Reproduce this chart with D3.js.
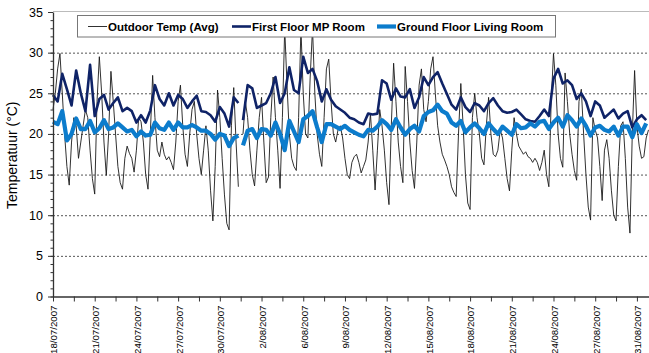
<!DOCTYPE html>
<html>
<head>
<meta charset="utf-8">
<style>
    body { margin: 0; background: #fff; }
    svg { font-family: 'Liberation Sans', Arial, sans-serif; }
    .grid line { stroke: #555; stroke-dasharray: 2,2; }
    .grid .domain { display: none; }
    .y .tick text { font-size: 12.5px; fill: #000; }
    .x .tick text { font-size: 9.7px; fill: #000; }
    .legend text { font-size: 11.5px; font-weight: bold; fill: #000; }
</style>
</head>
<body>
<svg width="649" height="353"></svg>

<script src="https://d3js.org/d3.v7.min.js"></script>
<script>
    // x is in hours from 18/07/2007 00:00 (category positions), outdoor every 4h, rooms every 8h
    let dateLabels = ["18/07/2007", "21/07/2007", "24/07/2007", "27/07/2007", "30/07/2007",
        "2/08/2007", "6/08/2007", "9/08/2007", "12/08/2007", "15/08/2007",
        "18/08/2007", "21/08/2007", "24/08/2007", "27/08/2007", "31/08/2007"];
    let yTicks = [0, 5, 10, 15, 20, 25, 30, 35];
    let seriesNames = ["Outdoor Temp (Avg)", "First Floor MP Room", "Ground Floor Living Room"];

    let outdoor = [
        23, 25, 28, 29.9, 25, 20, 16, 13.7, 19, 22, 21, 17, 19, 21, 23, 22, 18, 14.5, 12.6, 24,
        29.5, 25, 19, 14.9, 20, 27.7, 24, 20, 16, 14, 13.2, 17, 18.5, 17.6, 17, 15.3, 18, 22, 21.5, 19,
        15, 13.2, 20, 27.2, 22, 18, 17.2, 19, 17.5, 16.8, 17.2, 16.5, 15.6, 19, 24, 26, 21, 17.5, 16, 20,
        23, 24, 20, 17, 15, 18, 21, 18, 13, 9.3, 16, 25.4, 22, 17, 12.5, 9, 8.2, 21, 25.7, 19,
        13.5, null, 20, 24, 22, 18, 15, 13.6, 18, 22, 24.5, 19, 14, 14.7, 22, 27, 22, 18, 13.3, 22,
        33, 26, 20, 17, 16, 15.5, 22, 33, 25, 20, 19.5, 27, 33, 25, 20, 17.5, 16, 22, 28, 29.2,
        24, 20, 19, 20.5, 21, 19.5, 17, 15, 14.5, 16.5, 17.2, 17.5, 16.5, 15.2, 16, 16.8, 19, 22.5, 18, 13.1,
        18, 23, 21, 18, 14, 11.3, 21, 28.7, 24, 19, 16, 14, 28.3, 24, 19, 15.5, 13.3, 19, 26, 28,
        23, 21.5, 24, 28, 29.5, 25, 21, 19, 17.5, 16.8, 16, 15, 13.5, 12.8, 12.3, 20, 26.2, 21, 15, 11.5,
        10.7, 22, 25, 22, 20, 17, 16.2, 21, 24.5, 20, 17.5, 17.2, 18, 20.5, 19.5, 17, 14.5, 13, 18, 22,
        20, 18.5, 18, 17.5, 17.8, 17.2, 17, 16.5, 17, 16.5, 15.5, 16.5, 18, 15, 13.5, 24, 29.9, 26, 20, 17,
        15.9, 27.5, 24, 20, 17.5, 15.5, 14.3, 24, 25.5, 20, 15, 11, 9.4, 22, 20.5, 19.5, 16, 11.8, 18, 19.3,
        17, 13, 10, 9.3, 16, 21, 21.5, 17, 11, 7.8, 20, 27.8, 21, 18.5, 17, 17.2, 19.5, 20.5
    ];

    let firstFloor = [
        24.8, 24.0, 27.4, 25.5, 23.5, 27.8, 25.0, 22.8, 28.5, 22.2,
        24.3, 24.8, 23.0, 23.8, 24.5, 22.8, 23.2, 22.8, 21.4, 22.3,
        21.4, 22.9, 26.0, 24.3, 23.5, 25.0, 23.5, 24.8, 24.3, 23.2,
        24.0, 24.7, 22.8, 22.7, 22.3, 21.5, 23.3, 22.5, 20.9, 24.5,
        23.8, 21.7, 26.0, 25.6, 23.2, 23.5, 23.8, 25.0, 27.0, 23.8,
        25.0, 28.2, 25.4, 25.0, 29.5, 27.5, 28.0, 26.5, 24.0, 25.5,
        24.2, 23.4, 23.0, 22.6, 22.0, 21.8, 21.4, 21.2, 22.5, 22.4,
        22.5, 26.6, 26.2, 24.2, 25.6, 24.6, 24.5, 25.5, 23.2, 24.5,
        27.0, 26.0, 27.0, 27.6, 26.2, 24.9, 23.6, 23.0, 24.5, 23.3,
        22.7, 23.8, 23.5, 22.8, 23.8, 24.4, 23.5, 22.8, 22.6, 22.7,
        23.0, 22.4, 21.8, 21.6, 21.5, 22.2, 23.0, 22.2, 26.8, 28.0,
        26.2, 26.6, 26.0, 24.3, 25.0, 24.0, 22.2, 24.0, 23.5, 22.0,
        22.5, 23.0, 21.9, 22.5, 22.8, 20.8, 21.8, 22.3, 21.7
    ];

    let groundFloor = [
        21.5, 21.2, 22.8, 19.2, 20.0, 21.9, 20.6, 20.6, 21.6, 20.2,
        20.7, 21.7, 20.6, 20.8, 21.3, 20.8, 20.3, 20.5, 19.7, 20.3,
        19.8, 19.9, 21.4, 20.7, 20.5, 21.4, 20.5, 21.4, 20.8, 20.8,
        21.1, 20.8, 20.4, 20.4, 20.0, 19.3, 20.0, 19.8, 18.5, 19.5,
        19.8, 18.6, 20.4, 20.6, 19.5, 20.6, 20.5, 19.8, 21.4, 20.0,
        18.0, 21.6, 20.3, 19.0, 21.8, 22.2, 22.8, 20.8, 19.0, 21.2,
        21.2, 20.9, 20.6, 21.0, 20.5, 20.2, 19.9, 19.7, 20.5, 20.4,
        20.9, 21.7, 21.2, 20.5, 21.8, 20.8, 19.9, 20.6, 21.0, 20.3,
        22.2, 22.7, 22.9, 23.6, 22.8, 22.5, 21.4, 21.0, 21.6, 20.2,
        20.8, 21.3, 20.7, 20.0, 21.3, 20.6, 20.0, 20.9, 20.4, 19.9,
        21.2, 20.7, 20.8, 21.3, 20.9, 21.5, 21.6, 20.6, 21.4, 22.0,
        20.9, 22.3, 21.7, 20.9, 21.9, 21.0, 19.8, 20.8, 21.0, 20.5,
        20.3, 20.9, 19.8, 20.9, 20.9, 19.6, 21.2, 20.1, 21.3
    ];

    // hours where logging stopped for a while (between 320h and 328h)
    let gapHour = 324;

    let svg = d3.select("svg");

    let margin = { top: 12, right: 0, bottom: 56.5, left: 53 };
    let width = 649, height = 353;

    let x = d3.scaleLinear()
        .domain([0, 1028])
        .range([margin.left, 648.5]);

    let y = d3.scaleLinear()
        .domain([0, 35])
        .range([height - margin.bottom, margin.top]);

    // top border of plot area
    svg.append("line")
        .attr("x1", x(0)).attr("x2", width)
        .attr("y1", y(35) - 0.5).attr("y2", y(35) - 0.5)
        .attr("stroke", "#bbb");

    // dotted gridlines
    svg.append("g")
        .attr("class", "grid")
        .attr("transform", `translate(${x(0)},0)`)
        .call(d3.axisRight(y).tickValues([5, 10, 15, 20, 25, 30]).tickSize(width - x(0)).tickFormat(""));

    let outdoorData = outdoor.map((v, i) => ({ h: i * 4, v: v }));

    function withGap(values) {
        let pts = values.map((v, i) => ({ h: i * 8, v: v }));
        return pts.filter(d => d.h < gapHour)
            .concat([{ h: gapHour, v: null }], pts.filter(d => d.h > gapHour));
    }
    let firstData = withGap(firstFloor);
    let groundData = withGap(groundFloor);

    let line = d3.line()
        .defined(d => d.v != null)
        .x(d => x(d.h))
        .y(d => y(d.v));

    let plot = svg.append("g");

    plot.append("path")
        .datum(outdoorData)
        .attr("d", line)
        .attr("fill", "none")
        .attr("stroke", "#1a1a1a")
        .attr("stroke-width", 0.9);

    plot.append("path")
        .datum(firstData)
        .attr("d", line)
        .attr("fill", "none")
        .attr("stroke", "#0f2367")
        .attr("stroke-width", 2.6)
        .attr("stroke-linejoin", "round");

    plot.append("path")
        .datum(groundData)
        .attr("d", line)
        .attr("fill", "none")
        .attr("stroke", "#0c7ccc")
        .attr("stroke-width", 4.2)
        .attr("stroke-linejoin", "round");

    // y axis with minor ticks
    svg.append("g")
        .attr("transform", `translate(${x(0)},0)`)
        .call(d3.axisLeft(y).tickValues(d3.range(0, 36, 1)).tickSize(2.5).tickFormat(""))
        .call(g => g.selectAll("line").attr("stroke", "#333"))
        .call(g => g.select(".domain").remove());

    svg.append("g")
        .attr("class", "y axis")
        .attr("transform", `translate(${x(0)},0)`)
        .call(d3.axisLeft(y).tickValues(yTicks).tickSize(5).tickSizeOuter(0).tickPadding(5))
        .call(g => g.select(".domain").attr("stroke", "#333").attr("stroke-width", 1.3))
        .call(g => g.selectAll(".tick line").attr("stroke", "#333"));

    // x axis: ticks every 36h, labels every 72h
    let xAxis = d3.axisBottom(x)
        .tickValues(d3.range(0, 1009, 36))
        .tickSize(5)
        .tickSizeOuter(0)
        .tickFormat(d => d % 72 == 0 ? dateLabels[d / 72] : "");

    svg.append("g")
        .attr("class", "x axis")
        .attr("transform", `translate(0,${y(0)})`)
        .call(xAxis)
        .call(g => g.select(".domain").attr("stroke", "#333").attr("stroke-width", 1.3))
        .call(g => g.selectAll(".tick line").attr("stroke", "#333"))
        .call(g => g.selectAll(".tick text")
            .attr("transform", "rotate(-90)")
            .attr("text-anchor", "end")
            .attr("x", -9)
            .attr("y", 0.5)
            .attr("dy", "0.35em"));

    // y title
    svg.append("text")
        .attr("transform", `translate(17,${(y(0) + y(35)) / 2 + 1}) rotate(-90)`)
        .attr("text-anchor", "middle")
        .attr("font-size", 14)
        .text("Temperatuur (°C)");

    // legend
    let legend = svg.append("g").attr("class", "legend");
    legend.append("rect")
        .attr("x", 77.5).attr("y", 15.5)
        .attr("width", 478).attr("height", 21.5)
        .attr("fill", "#fff")
        .attr("stroke", "#777");

    let legendItems = [
        { name: seriesNames[0], x: 88, color: "#1a1a1a", w: 0.9 },
        { name: seriesNames[1], x: 232, color: "#0f2367", w: 2.6 },
        { name: seriesNames[2], x: 377, color: "#0c7ccc", w: 4.2 }
    ];
    legendItems.forEach(item => {
        legend.append("line")
            .attr("x1", item.x).attr("x2", item.x + 19)
            .attr("y1", 26.5).attr("y2", 26.5)
            .attr("stroke", item.color)
            .attr("stroke-width", item.w);
        legend.append("text")
            .attr("x", item.x + 20)
            .attr("y", 30.5)
            .text(item.name);
    });
</script>
</body>
</html>
